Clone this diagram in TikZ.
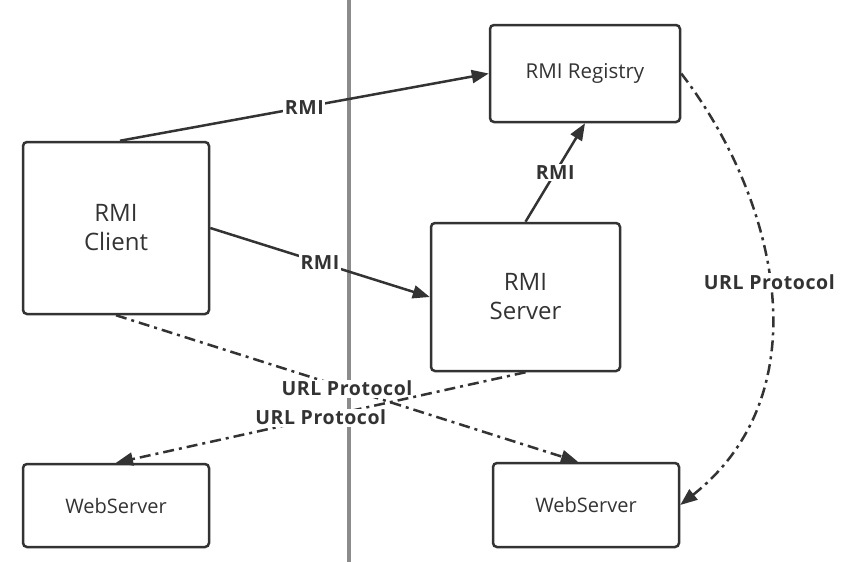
\documentclass[tikz,border=0pt]{standalone}
\usepackage{fontspec}
\setmainfont{Open Sans}
\newfontfamily\labfont{Open Sans}[LetterSpace=3]
\usetikzlibrary{arrows.meta}
\definecolor{ink}{HTML}{333333}
\definecolor{divider}{HTML}{8C8C8C}
\begin{document}
\begin{tikzpicture}[x=1pt,y=-1pt,
  box/.style={draw=ink,line width=2.5pt,rounded corners=4pt,text=ink,align=center,inner sep=0pt},
  rmi/.style={draw=ink,line width=2.5pt,-{Triangle[length=17pt,width=13pt]}},
  url/.style={rmi,dash pattern=on 11pt off 5pt on 3pt off 5pt},
  lab/.style={fill=white,text=ink,font=\labfont\fontsize{19.5}{22}\selectfont\bfseries,inner sep=1.5pt}]
\useasboundingbox (0,0) rectangle (849,562);
\draw[divider,line width=3.5pt] (349,0) -- (349,562);
%boxes
\node[box,minimum width=186pt,minimum height=172pt,font=\fontsize{24}{29}\selectfont] (client) at (116,228) {RMI\\Client};
\node[box,minimum width=190pt,minimum height=97pt,font=\fontsize{20.5}{24}\selectfont] (registry) at (585,73.5) {RMI Registry};
\node[box,minimum width=189pt,minimum height=148pt,font=\fontsize{24}{29}\selectfont] (server) at (525.5,297) {RMI\\Server};
\node[box,minimum width=186pt,minimum height=83pt,font=\fontsize{20}{24}\selectfont] (webL) at (116,505.5) {WebServer};
\node[box,minimum width=186pt,minimum height=84pt,font=\fontsize{20}{24}\selectfont] (webR) at (586,505) {WebServer};
%rmi calls
\draw[rmi] ([xshift=4pt]client.north) -- node[lab]{RMI} (registry.west);
\draw[rmi] (client.east) -- node[lab]{RMI} (server.west);
\draw[rmi] (server.north) -- node[lab]{RMI} (registry.south);
%url protocol
\draw[url] (registry.east) .. controls (775,195) and (825,390) .. node[lab,pos=0.48]{URL Protocol} (webR.east);
\draw[url] (client.south) -- node[lab]{URL Protocol} ([xshift=-8pt]webR.north);
\draw[url] (server.south) -- node[lab]{URL Protocol} (webL.north);
\end{tikzpicture}
\end{document}
